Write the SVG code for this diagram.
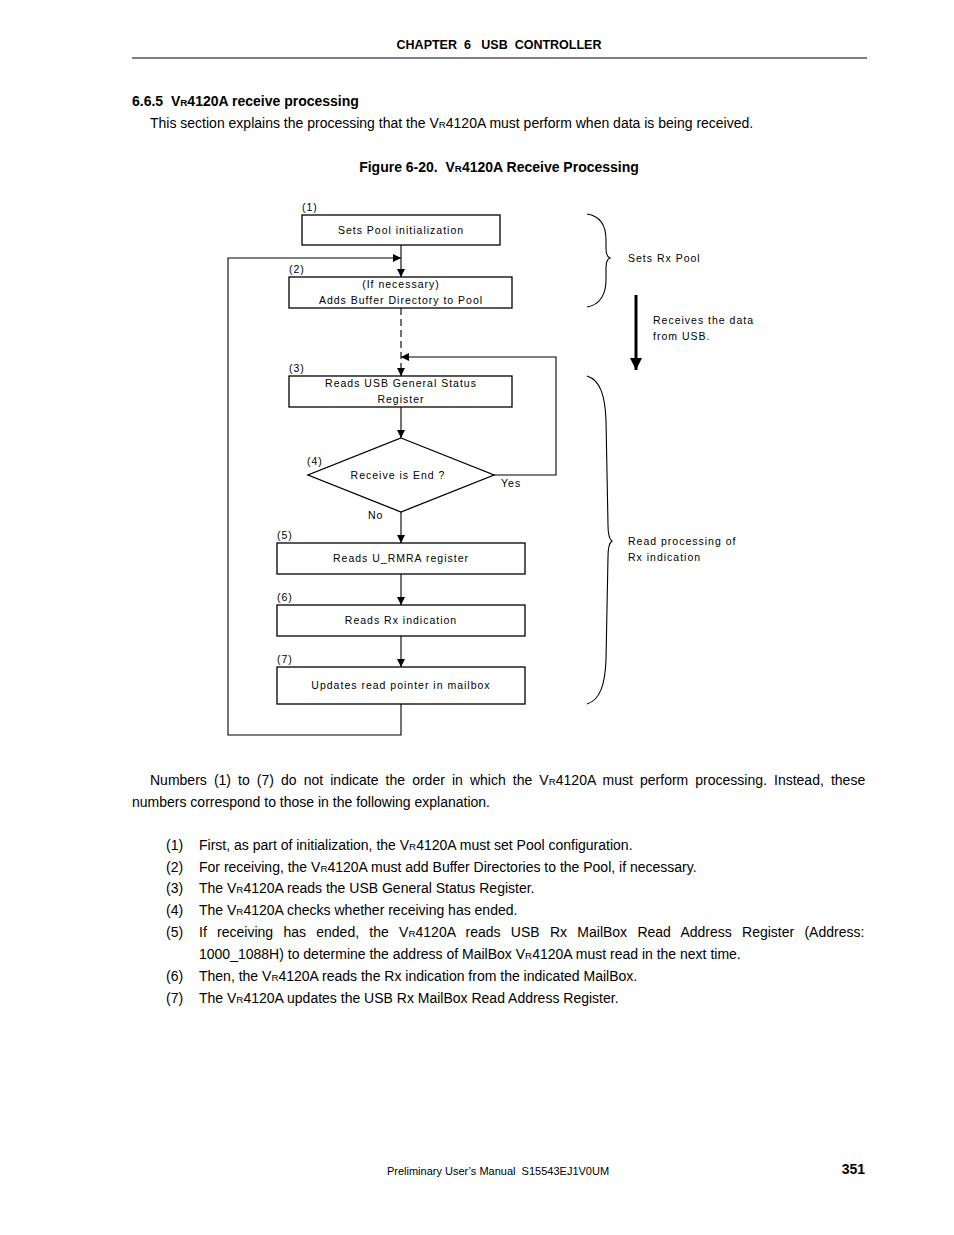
<svg xmlns="http://www.w3.org/2000/svg" width="954" height="1235" viewBox="0 0 954 1235">
<defs>
<style>
.hd{font-family:"Liberation Sans",Arial,sans-serif;font-weight:bold;fill:#000;white-space:pre}
.bd{font-family:"Liberation Sans",Arial,sans-serif;font-size:14px;fill:#000;white-space:pre}
.dg{font-family:"Liberation Sans",Arial,sans-serif;font-size:10.5px;letter-spacing:1px;fill:#000}
.box{fill:#fff;stroke:#000;stroke-width:1.3}
.ln{fill:none;stroke:#000;stroke-width:1.1}
.s{font-size:70%}
</style>
<marker id="ah" viewBox="0 0 10 10" refX="10" refY="5" markerWidth="8" markerHeight="8" markerUnits="userSpaceOnUse" orient="auto">
<path d="M0,0 L10,5 L0,10 z" fill="#000"/>
</marker>
<marker id="ahb" viewBox="0 0 10 10" refX="10" refY="5" markerWidth="4" markerHeight="4" orient="auto">
<path d="M0,0 L10,5 L0,10 z" fill="#000"/>
</marker>
</defs>
<rect width="954" height="1235" fill="#fff"/>
<g id="header">
<text class="hd" x="499" y="49" font-size="12.5" text-anchor="middle">CHAPTER  6   USB  CONTROLLER</text>
<line x1="132" y1="58" x2="867" y2="58" stroke="#000" stroke-width="1"/>
<text class="hd" x="132" y="106" font-size="14">6.6.5  V<tspan class="s">R</tspan>4120A receive processing</text>
<text class="bd" x="150" y="128">This section explains the processing that the V<tspan class="s">R</tspan>4120A must perform when data is being received.</text>
<text class="hd" x="499" y="172" font-size="14" text-anchor="middle">Figure 6-20.  V<tspan class="s">R</tspan>4120A Receive Processing</text>
</g>
<g id="connectors">
<line class="ln" x1="401" y1="245" x2="401" y2="277" marker-end="url(#ah)"/>
<polyline class="ln" points="401,704 401,735 228,735 228,258 401,258" marker-end="url(#ah)"/>
<line class="ln" x1="401" y1="308" x2="401" y2="376" stroke-dasharray="7,4" marker-end="url(#ah)"/>
<polyline class="ln" points="494,475 556,475 556,357 401,357" marker-end="url(#ah)"/>
<line class="ln" x1="401" y1="407" x2="401" y2="438" marker-end="url(#ah)"/>
<line class="ln" x1="401" y1="512" x2="401" y2="543" marker-end="url(#ah)"/>
<line class="ln" x1="401" y1="574" x2="401" y2="605" marker-end="url(#ah)"/>
<line class="ln" x1="401" y1="636" x2="401" y2="667" marker-end="url(#ah)"/>
</g>
<g id="n1">
<rect class="box" x="302" y="215" width="198" height="30"/>
<text class="dg" x="302" y="211">(1)</text>
<text class="dg" x="401" y="234" text-anchor="middle">Sets Pool initialization</text>
</g>
<g id="n2">
<rect class="box" x="289" y="277" width="223" height="31"/>
<text class="dg" x="289" y="273">(2)</text>
<text class="dg" x="401" y="288" text-anchor="middle">(If necessary)</text>
<text class="dg" x="401" y="304" text-anchor="middle">Adds Buffer Directory to Pool</text>
</g>
<g id="n3">
<rect class="box" x="289" y="376" width="223" height="31"/>
<text class="dg" x="289" y="372">(3)</text>
<text class="dg" x="401" y="387" text-anchor="middle">Reads USB General Status</text>
<text class="dg" x="401" y="403" text-anchor="middle">Register</text>
</g>
<g id="n4">
<polygon class="box" points="401,438 494,475 401,512 308,475"/>
<text class="dg" x="307" y="465">(4)</text>
<text class="dg" x="398" y="479" text-anchor="middle">Receive is End ?</text>
<text class="dg" x="501" y="487">Yes</text>
<text class="dg" x="368" y="519">No</text>
</g>
<g id="n5">
<rect class="box" x="277" y="543" width="248" height="31"/>
<text class="dg" x="277" y="539">(5)</text>
<text class="dg" x="401" y="562" text-anchor="middle">Reads U_RMRA register</text>
</g>
<g id="n6">
<rect class="box" x="277" y="605" width="248" height="31"/>
<text class="dg" x="277" y="601">(6)</text>
<text class="dg" x="401" y="624" text-anchor="middle">Reads Rx indication</text>
</g>
<g id="n7">
<rect class="box" x="277" y="667" width="248" height="37"/>
<text class="dg" x="277" y="663">(7)</text>
<text class="dg" x="401" y="689" text-anchor="middle">Updates read pointer in mailbox</text>
</g>
<g id="annotations">
<path class="ln" d="M587,214 C600,216 606,226 606,240 L606,248 C606,254 607,257 610,258 C607,259 606,262 606,268 L606,280 C606,294 600,305 587,307"/>
<text class="dg" x="628" y="262">Sets Rx Pool</text>
<line x1="636" y1="295" x2="636" y2="370" stroke="#000" stroke-width="3" marker-end="url(#ahb)"/>
<text class="dg" x="653" y="324">Receives the data</text>
<text class="dg" x="653" y="340">from USB.</text>
<path class="ln" d="M587,376 C600,380 605,395 606,420 L608,525 C608,535 609,539 612,541 C609,543 608,547 608,557 L606,660 C605,685 600,700 587,704"/>
<text class="dg" x="628" y="545">Read processing of</text>
<text class="dg" x="628" y="561">Rx indication</text>
</g>
<g id="body">
<text class="bd" x="150" y="785" word-spacing="3.2">Numbers (1) to (7) do not indicate the order in which the V<tspan class="s">R</tspan>4120A must perform processing. Instead, these</text>
<text class="bd" x="132" y="807">numbers correspond to those in the following explanation.</text>
<text class="bd" x="166" y="850">(1)</text>
<text class="bd" x="199" y="850">First, as part of initialization, the V<tspan class="s">R</tspan>4120A must set Pool configuration.</text>
<text class="bd" x="166" y="872">(2)</text>
<text class="bd" x="199" y="872">For receiving, the V<tspan class="s">R</tspan>4120A must add Buffer Directories to the Pool, if necessary.</text>
<text class="bd" x="166" y="893">(3)</text>
<text class="bd" x="199" y="893">The V<tspan class="s">R</tspan>4120A reads the USB General Status Register.</text>
<text class="bd" x="166" y="915">(4)</text>
<text class="bd" x="199" y="915">The V<tspan class="s">R</tspan>4120A checks whether receiving has ended.</text>
<text class="bd" x="166" y="937">(5)</text>
<text class="bd" x="199" y="937" word-spacing="6.4">If receiving has ended, the V<tspan class="s">R</tspan>4120A reads USB Rx MailBox Read Address Register (Address:</text>
<text class="bd" x="199" y="959">1000_1088H) to determine the address of MailBox V<tspan class="s">R</tspan>4120A must read in the next time.</text>
<text class="bd" x="166" y="981">(6)</text>
<text class="bd" x="199" y="981">Then, the V<tspan class="s">R</tspan>4120A reads the Rx indication from the indicated MailBox.</text>
<text class="bd" x="166" y="1003">(7)</text>
<text class="bd" x="199" y="1003">The V<tspan class="s">R</tspan>4120A updates the USB Rx MailBox Read Address Register.</text>
</g>
<g id="footer">
<text class="bd" x="498" y="1175" text-anchor="middle" style="font-size:11px">Preliminary User’s Manual  S15543EJ1V0UM</text>
<text class="hd" x="865" y="1174" font-size="14" text-anchor="end">351</text>
</g>
</svg>
